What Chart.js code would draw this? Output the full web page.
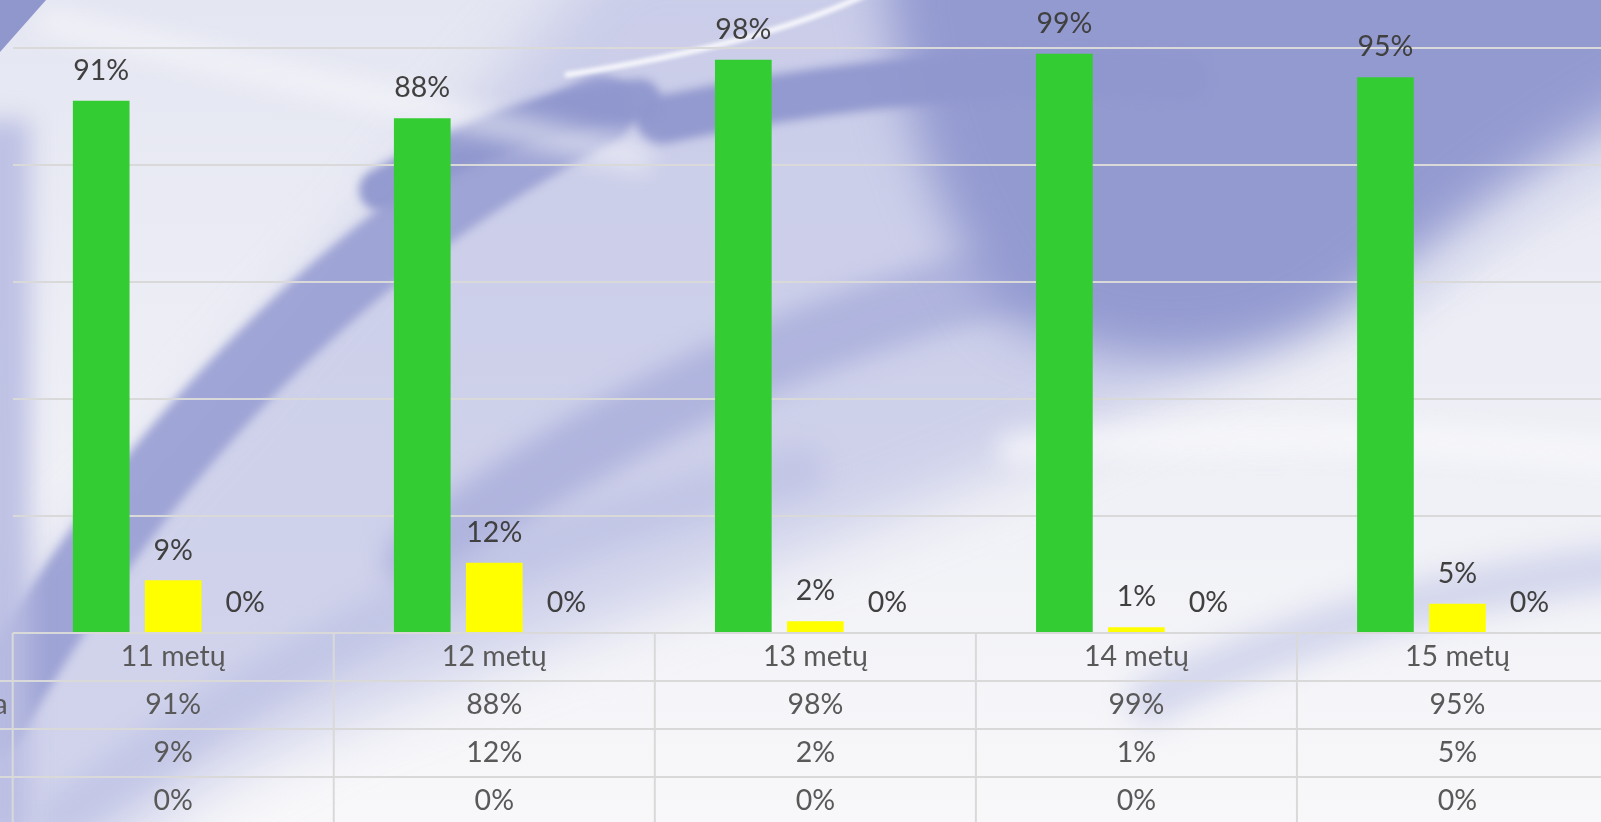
<!DOCTYPE html>
<html>
<head>
<meta charset="utf-8">
<script src="https://cdn.jsdelivr.net/npm/chart.js@4/dist/chart.umd.min.js"></script>
<style>
  html, body { margin: 0; padding: 0; width: 1601px; height: 822px; overflow: hidden; background: #f3f4f8; }
  #bg { position: absolute; left: 0; top: 0; }
  #wrap { position: absolute; left: 0; top: -69px; width: 1640px; height: 891px; }
</style>
</head>
<body>
<canvas id="bg" width="1601" height="822"></canvas>
<div id="wrap"><canvas id="c"></canvas></div>
<script>
// ---- data ----
const categories = ["11 metų", "12 metų", "13 metų", "14 metų", "15 metų"];
const seriesNames = ["Visiškai sutinka", "Nesutinka", "Nežino"];
const seriesA = [0.91, 0.88, 0.98, 0.99, 0.95];
const seriesB = [0.09, 0.12, 0.02, 0.01, 0.05];
const seriesC = [0, 0, 0, 0, 0];
const seriesColors = ["#33cc33", "#ffff00", "#ff3333"];

// ---- decorative background ----
(function drawBg() {
  const c = document.getElementById('bg');
  const g = c.getContext('2d');
  const base = g.createLinearGradient(0, 0, 0, 822);
  base.addColorStop(0, '#e4e6f2');
  base.addColorStop(0.55, '#eff0f6');
  base.addColorStop(1, '#f8f8fa');
  g.fillStyle = base; g.fillRect(0, 0, 1601, 822);

  // broad medium band (lighter)
  g.save();
  g.filter = 'blur(30px)';
  g.fillStyle = 'rgba(185,189,226,0.6)';
  g.beginPath();
  g.moveTo(620, -60); g.lineTo(1700, -60); g.lineTo(1700, 110);
  g.bezierCurveTo(1450, 200, 1320, 320, 1050, 450);
  g.bezierCurveTo(850, 540, 550, 640, 350, 720);
  g.bezierCurveTo(250, 760, 180, 800, 120, 860);
  g.lineTo(-60, 860); g.lineTo(-60, 660);
  g.bezierCurveTo(150, 500, 380, 200, 620, -60);
  g.closePath(); g.fill();
  g.restore();

  // diagonal medium-blue bands
  g.save();
  g.filter = 'blur(12px)';
  g.lineCap = 'round';
  g.strokeStyle = 'rgba(165,171,218,0.75)';
  g.lineWidth = 70;
  g.beginPath(); g.moveTo(420, 560); g.quadraticCurveTo(750, 300, 1250, 230); g.stroke();
  g.strokeStyle = 'rgba(190,194,228,0.7)';
  g.lineWidth = 50;
  g.beginPath(); g.moveTo(60, 820); g.quadraticCurveTo(400, 560, 800, 470); g.stroke();
  g.restore();

  // light streaks
  g.save();
  g.filter = 'blur(14px)';
  g.strokeStyle = 'rgba(220,222,240,0.8)';
  g.lineCap = 'round';
  g.lineWidth = 30;
  g.beginPath(); g.moveTo(1380, 330); g.quadraticCurveTo(1500, 220, 1650, 150); g.stroke();
  g.restore();

  // darker top-right area
  g.save();
  g.filter = 'blur(25px)';
  g.fillStyle = '#939ad0';
  g.beginPath();
  g.moveTo(880, -60); g.lineTo(1700, -60); g.lineTo(1700, 70);
  g.bezierCurveTo(1520, 150, 1420, 260, 1330, 320);
  g.bezierCurveTo(1230, 370, 1120, 370, 1010, 320);
  g.bezierCurveTo(940, 230, 900, 120, 880, -60);
  g.closePath(); g.fill();
  g.restore();

  // brush strokes
  g.save();
  g.filter = 'blur(5px)';
  g.lineCap = 'round';
  g.strokeStyle = 'rgba(155,161,212,0.95)';
  g.lineWidth = 70;
  g.beginPath(); g.moveTo(-10, 720); g.quadraticCurveTo(230, 300, 600, 110); g.stroke();
  g.strokeStyle = 'rgba(143,151,205,0.95)';
  g.lineWidth = 48;
  g.beginPath(); g.moveTo(660, 120); g.quadraticCurveTo(950, 60, 1185, 78); g.stroke();
  g.lineWidth = 42;
  g.beginPath(); g.moveTo(380, 190); g.quadraticCurveTo(520, 110, 640, 100); g.stroke();
  g.restore();

  // left edge lavender
  g.save();
  g.filter = 'blur(12px)';
  g.fillStyle = 'rgba(185,189,226,0.9)';
  g.fillRect(-30, 120, 60, 720);
  g.restore();

  // white streaks
  g.save();
  g.filter = 'blur(2px)';
  g.strokeStyle = 'rgba(255,255,255,0.95)';
  g.lineWidth = 5;
  g.beginPath(); g.moveTo(565, 75); g.quadraticCurveTo(760, 45, 865, -5); g.stroke();
  g.restore();
  g.save();
  g.filter = 'blur(12px)';
  g.strokeStyle = 'rgba(250,250,252,0.6)';
  g.lineWidth = 25;
  g.beginPath(); g.moveTo(40, 20); g.quadraticCurveTo(350, 90, 650, 160); g.stroke();
  g.strokeStyle = 'rgba(250,250,252,0.7)';
  g.lineWidth = 30;
  g.beginPath(); g.moveTo(1000, 450); g.quadraticCurveTo(1300, 420, 1650, 460); g.stroke();
  g.restore();

  // pale swoosh bottom right
  g.save();
  g.filter = 'blur(15px)';
  g.strokeStyle = 'rgba(205,208,234,0.85)';
  g.lineWidth = 45; g.lineCap = 'round';
  g.beginPath(); g.moveTo(1150, 700); g.quadraticCurveTo(1400, 580, 1700, 560); g.stroke();
  g.restore();

  g.fillStyle = '#8f97cd';
  g.beginPath(); g.moveTo(0, 0); g.lineTo(46, 0); g.lineTo(0, 52); g.closePath(); g.fill();
})();

// ---- plugins ----
const FONT = "Lato, 'Open Sans', sans-serif";
const FSIZE = 28.5;
const pct = v => Math.round(v * 100) + '%';

const valueLabels = {
  id: 'valueLabels',
  afterDatasetsDraw(chart) {
    const ctx = chart.ctx;
    ctx.save();
    ctx.font = FSIZE + 'px ' + FONT;
    ctx.fillStyle = '#404040';
    ctx.textAlign = 'center';
    ctx.textBaseline = 'middle';
    chart.data.datasets.forEach((ds, di) => {
      chart.getDatasetMeta(di).data.forEach((el, i) => {
        ctx.fillText(pct(ds.data[i]), el.x, el.y - 30);
      });
    });
    ctx.restore();
  }
};

const dataTable = {
  id: 'dataTable',
  afterDraw(chart) {
    const ctx = chart.ctx;
    const xs = chart.scales.x, ys = chart.scales.y;
    const top = ys.getPixelForValue(0);
    const rowH = 48;
    const n = categories.length;
    const colW = (xs.right - xs.left) / n;
    const left = xs.left, right = xs.right;
    ctx.save();
    ctx.strokeStyle = '#d9d9d9';
    ctx.lineWidth = 2;
    ctx.beginPath();
    ctx.moveTo(left, top); ctx.lineTo(right, top);
    for (let r = 1; r <= 4; r++) {
      ctx.moveTo(left - 400, top + r * rowH); ctx.lineTo(right, top + r * rowH);
    }
    for (let i = 0; i <= n; i++) {
      const x = left + i * colW;
      ctx.moveTo(x, top); ctx.lineTo(x, top + 5 * rowH);
    }
    ctx.stroke();
    ctx.font = FSIZE + 'px ' + FONT;
    ctx.fillStyle = '#595959';
    ctx.textAlign = 'center';
    ctx.textBaseline = 'middle';
    categories.forEach((cat, i) => {
      const cx = left + (i + 0.5) * colW;
      ctx.fillText(cat, cx, top + rowH / 2);
      chart.data.datasets.forEach((ds, di) => {
        ctx.fillText(pct(ds.data[i]), cx, top + (di + 1.5) * rowH);
      });
    });
    // row headers (mostly outside the visible area)
    ctx.textAlign = 'left';
    const w0 = ctx.measureText(seriesNames[0]).width;
    const hx = left - 5 - w0;
    seriesNames.forEach((nm, di) => {
      ctx.fillText(nm, hx, top + (di + 1.5) * rowH);
    });
    ctx.restore();
  }
};

new Chart(document.getElementById('c'), {
  type: 'bar',
  data: {
    labels: categories,
    datasets: [
      { label: seriesNames[0], data: seriesA, backgroundColor: seriesColors[0] },
      { label: seriesNames[1], data: seriesB, backgroundColor: seriesColors[1] },
      { label: seriesNames[2], data: seriesC, backgroundColor: seriesColors[2] }
    ]
  },
  options: {
    responsive: true,
    maintainAspectRatio: false,
    animation: false,
    datasets: { bar: { categoryPercentage: 0.673, barPercentage: 0.787 } },
    layout: { padding: { left: 12.7, right: 22, top: 0, bottom: 189 } },
    plugins: { legend: { display: false }, tooltip: { enabled: false } },
    scales: {
      x: {
        grid: { display: false, drawTicks: false },
        border: { display: false },
        ticks: { display: false }
      },
      y: {
        min: 0, max: 1.2,
        ticks: { display: false, stepSize: 0.2 },
        grid: { color: '#d9d9d9', lineWidth: 2, drawTicks: false },
        border: { display: false }
      }
    }
  },
  plugins: [valueLabels, dataTable]
});
</script>
</body>
</html>
